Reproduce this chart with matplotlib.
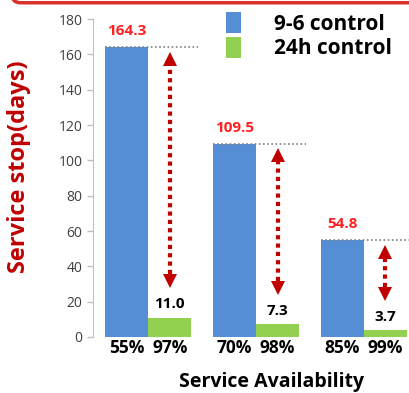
import matplotlib.pyplot as plt
import numpy as np
from matplotlib.patches import FancyBboxPatch

plt.rcParams['font.family'] = ['Open Sans', 'DejaVu Sans']

# data
groups = ["G1", "G2", "G3"]
ctrl_96 = [164.3, 109.5, 54.8]
ctrl_24h = [11.0, 7.3, 3.7]
avail_96 = ["55%", "70%", "85%"]
avail_24h = ["97%", "98%", "99%"]
yticks = [0, 20, 40, 60, 80, 100, 120, 140, 160, 180]

blue = "#558ED5"
green = "#92D050"
dark_red = "#C00000"

fig = plt.figure(figsize=(4.09, 3.93), dpi=100)
ax = fig.add_axes([0.2274, 0.1425, 0.7726, 0.809])

# red slide frame peeking in at the top
frame = FancyBboxPatch((0.03, 0.993), 1.2, 0.2, boxstyle="round,pad=0,rounding_size=0.02",
                       transform=fig.transFigure, facecolor="white", edgecolor="#D9302A",
                       linewidth=2.5, zorder=5, clip_on=False)
fig.patches.append(frame)

x = np.arange(len(groups))
w = 0.4
ax.bar(x - w / 2, ctrl_96, w, color=blue, label="9-6 control", zorder=2)
ax.bar(x + w / 2, ctrl_24h, w, color=green, label="24h control", zorder=2)

for i in range(len(groups)):
    # dotted guide at the top of the blue bar
    right = min(i + w + 0.06, 2.42)
    ax.plot([i - w, right], [ctrl_96[i], ctrl_96[i]], color="#7F7F7F",
            linestyle=(0, (1, 1.5)), linewidth=1.2, zorder=3, clip_on=False)
    # value labels
    ax.text(i - w / 2, ctrl_96[i] + 5, f"{ctrl_96[i]:.1f}", color="#FF2020",
            fontsize=11, fontweight="bold", ha="center", va="bottom")
    ax.text(i + w / 2, ctrl_24h[i] + 3.5, f"{ctrl_24h[i]:.1f}", color="black",
            fontsize=11, fontweight="bold", ha="center", va="bottom")
    # double-headed dotted arrow
    top = ctrl_96[i] - 3
    bottom = ctrl_24h[i] + 17
    head = 7.4
    xa = i + w / 2
    ax.plot([xa, xa], [bottom + head, top - head], color=dark_red,
            linestyle=(0, (1, 1)), linewidth=3, solid_capstyle="butt", zorder=3)
    ax.plot(xa, top - head / 2, marker="^", markersize=10, color=dark_red,
            markeredgewidth=0, zorder=4)
    ax.plot(xa, bottom + head / 2, marker="v", markersize=10, color=dark_red,
            markeredgewidth=0, zorder=4)
    # availability labels under bars
    ax.text(i - w / 2, -1, avail_96[i], fontsize=12.5, fontweight="bold",
            ha="center", va="top", color="black")
    ax.text(i + w / 2, -1, avail_24h[i], fontsize=12.5, fontweight="bold",
            ha="center", va="top", color="black")

ax.set_xlim(-0.511, 2.4185)
ax.set_ylim(0, 180)
ax.set_yticks(yticks)
ax.set_xticks([])
ax.tick_params(axis="y", colors="#BFBFBF", labelcolor="#404040", labelsize=10,
               length=4, width=1)
for s in ["top", "right", "bottom"]:
    ax.spines[s].set_visible(False)
ax.spines["left"].set_color("#BFBFBF")

ax.set_ylabel("Service stop(days)", color=dark_red, fontsize=17, fontweight="bold")
ax.yaxis.set_label_coords(-0.195, 0.535)
fig.text(0.665, 0.028, "Service Availability", fontsize=14, fontweight="bold",
         ha="center", va="center")

leg = ax.legend(loc="upper left", bbox_to_anchor=(0.36, 1.08), frameon=False,
                prop={"weight": "bold", "size": 15}, handlelength=0.75,
                handleheight=1.15, handletextpad=1.6, labelspacing=0.1)

fig.savefig("out.png", dpi=100)
